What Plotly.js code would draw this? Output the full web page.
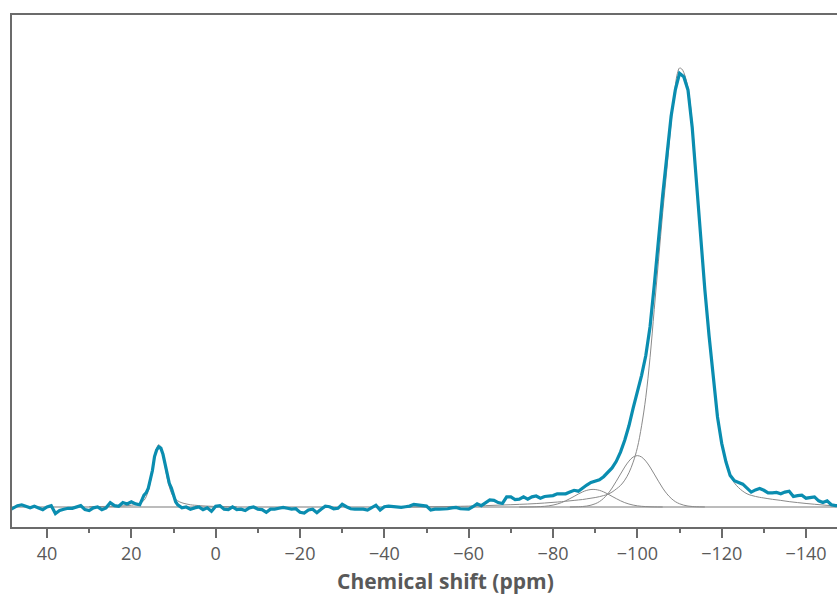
<!DOCTYPE html>
<html>
<head>
<meta charset="utf-8">
<script src="https://cdn.plot.ly/plotly-3.0.1.min.js"></script>
<style>html,body{margin:0;padding:0;background:#fff;overflow:hidden;width:837px;height:596px;}#chart{width:879px;height:596px;}</style>
</head>
<body>
<div id="chart"></div>
<script>
// Measured spectrum (ppm, intensity)
var shiftMeasured = [48.5,48,47,46,45,44,43,42,41,40,39,38,37,36,35,34,33,32,31,30,29,28,27,26,25,24,23,22,21,20,19,18,17,16.5,16,15.5,15,14.5,14,13.5,13,12.5,12,11.5,11,10.5,10,9.5,9,8,7,6,5,4,3,2,1,0,-1,-2,-3,-4,-5,-6,-7,-8,-9,-10,-11,-12,-13,-14,-15,-16,-17,-18,-19,-20,-21,-22,-23,-24,-25,-26,-27,-28,-29,-30,-31,-32,-33,-34,-35,-36,-37,-38,-39,-40,-41,-42,-43,-44,-45,-46,-47,-48,-49,-50,-51,-52,-53,-54,-55,-56,-57,-58,-59,-60,-61,-62,-63,-64,-65,-66,-67,-68,-69,-70,-71,-72,-73,-74,-75,-76,-77,-78,-79,-80,-81,-82,-83,-84,-85,-86,-87,-88,-89,-90,-91,-92,-93,-94,-95,-96,-97,-98,-99,-100,-101,-102,-103,-104,-105,-106,-107,-108,-109,-110,-111,-112,-113,-114,-115,-116,-117,-118,-119,-120,-121,-122,-123,-124,-125,-126,-127,-128,-129,-130,-131,-132,-133,-134,-135,-136,-137,-138,-139,-140,-141,-142,-143,-144,-145,-146,-147,-147.4];
var intensityMeasured = [-0.5,-0.2,0.3,0.5,0.15,-0.2,0.15,-0.2,-0.6,0,0.3,-1.5,-0.8,-0.5,-0.3,-0.3,0,0.3,-0.6,-0.8,-0.2,0,-0.6,-0.2,1.0,0.3,0.15,1.0,0.7,1.2,0.7,0.5,2.7,3.2,4.2,6.0,8.3,11.5,13.0,13.7,13.4,12.0,9.9,7.5,5.4,4.3,2.7,1.2,0.5,-0.2,0,-0.5,-0.2,0,-0.6,-0.2,-1.0,0.15,0.3,-0.5,-0.6,0,-0.6,-0.5,-0.8,-0.2,0,-0.5,-0.6,-1.2,-0.5,-0.5,-0.3,-0.1,-0.3,-0.5,-0.4,-1.2,-1.4,-0.7,-0.5,-1.3,-0.5,0.2,0.05,-0.4,-0.3,0.6,0.05,-0.4,-0.5,-0.5,-0.5,-0.7,-0.1,0.4,-0.7,0.05,0.2,0.05,0.05,-0.1,0.05,0.2,0.6,0.5,0.4,0.2,-0.7,-0.5,-0.5,-0.5,-0.4,-0.2,-0.1,-0.4,-0.5,-0.5,0.05,0.7,0.3,0.9,1.6,1.5,1.0,0.8,2.3,2.3,1.7,1.8,2.3,1.8,2.3,2.5,2.0,2.4,2.5,2.6,3.0,3.0,3.0,3.4,3.8,3.6,4.4,5.0,5.6,5.9,6.2,6.9,7.9,8.9,10.4,12.5,15.2,18.5,22.5,26,30,34.5,41,50.5,61,71,80,89,95,98.8,98,95,86.5,73.5,61,49.5,39,30,20.5,14.5,10.3,7.2,6.0,5.6,5.2,4.3,3.4,3.9,4.2,3.8,3.2,3.2,3.3,3.0,3.4,3.6,2.4,2.6,2.7,2.0,2.2,2.3,1.4,1.0,1.4,0.5,0.3,0.3];

// Fit component near 13.5 ppm
var shiftFitA = [30,25,22,20,19,18,17,16.5,16,15.5,15,14.5,14,13.5,13,12.5,12,11.5,11,10.5,10,9,8,7,6,5,3,0,-5];
var intensityFitA = [0.05,0.15,0.25,0.4,0.55,0.8,1.5,2.3,3.6,5.6,8.2,11.2,13.4,14.2,13.6,11.8,9.2,6.6,4.6,3.2,2.3,1.4,0.95,0.7,0.5,0.4,0.25,0.12,0.04];

// Main fit component near -110 ppm
var shiftFitMain = [-45,-48,-52,-56,-60,-62,-64,-66,-68,-70,-72,-74,-76,-78,-80,-82,-83,-84,-85,-86,-87,-88,-89,-90,-91,-92,-93,-94,-95,-96,-97,-98,-99,-100,-101,-102,-103,-104,-105,-106,-107,-108,-109,-109.5,-110,-110.5,-111,-112,-113,-114,-115,-116,-117,-118,-119,-120,-121,-122,-123,-124,-125,-126,-127,-128,-129,-130,-132,-134,-136,-138,-140,-142,-144,-146,-148];
var intensityFitMain = [0,0.02,0.06,0.12,0.2,0.25,0.3,0.38,0.45,0.52,0.6,0.68,0.78,0.9,1.05,1.2,1.3,1.4,1.5,1.6,1.7,1.85,2.0,2.15,2.35,2.6,2.9,3.4,4.1,4.9,6.1,7.8,10.2,13.5,18.5,25,34,45,56,67,77,87.5,96,98.8,100,99.8,99,95.5,87.5,75,61.5,49.5,39,30,21.5,15,10.5,7.3,5.5,4.4,3.6,3.0,2.65,2.4,2.2,2.05,1.75,1.5,1.22,1.0,0.8,0.62,0.45,0.3,0.2];

// Fit component near -100 ppm
var shiftFitB = [-84,-86,-87,-88,-89,-90,-91,-92,-93,-94,-95,-96,-97,-98,-99,-100,-101,-102,-103,-104,-105,-106,-107,-108,-109,-110,-111,-112,-113,-114,-116];
var intensityFitB = [0,0.05,0.11,0.21,0.41,0.73,1.22,1.98,3.0,4.31,5.87,7.5,9.1,10.45,11.38,11.7,11.38,10.45,9.1,7.5,5.87,4.31,3.0,1.98,1.22,0.73,0.41,0.21,0.11,0.05,0];

// Fit component near -89.5 ppm
var shiftFitC = [-72,-75,-76,-77,-78,-79,-80,-81,-82,-83,-84,-85,-86,-87,-88,-89,-90,-91,-92,-93,-94,-95,-96,-97,-98,-99,-100,-101,-102,-103,-104,-106];
var intensityFitC = [0,0.02,0.05,0.09,0.15,0.26,0.43,0.67,0.99,1.41,1.9,2.42,2.96,3.43,3.79,3.98,3.98,3.79,3.43,2.96,2.42,1.9,1.41,0.99,0.67,0.43,0.26,0.15,0.09,0.05,0.02,0];

// Baseline
var shiftBase = [50,-160];
var intensityBase = [0,0];

var xTitle = 'Chemical shift (ppm)';

var grey = '#8a8a8a';
var axisColor = '#6b6b6b';
var traces = [
  {x: shiftBase, y: intensityBase, mode:'lines', line:{color:'#7a7a7a', width:1.2}, hoverinfo:'skip'},
  {x: shiftFitA, y: intensityFitA, mode:'lines', line:{color:grey, width:1, shape:'spline'}, hoverinfo:'skip'},
  {x: shiftFitC, y: intensityFitC, mode:'lines', line:{color:grey, width:1, shape:'spline'}, hoverinfo:'skip'},
  {x: shiftFitB, y: intensityFitB, mode:'lines', line:{color:grey, width:1, shape:'spline'}, hoverinfo:'skip'},
  {x: shiftFitMain, y: intensityFitMain, mode:'lines', line:{color:grey, width:1, shape:'spline'}, hoverinfo:'skip'},
  {x: shiftMeasured, y: intensityMeasured, mode:'lines', line:{color:'#0a8db0', width:3.2}}
];

var layout = {
  width: 879, height: 596,
  margin: {l:12, r:0, t:15, b:69, pad:0},
  paper_bgcolor:'#ffffff', plot_bgcolor:'#ffffff',
  showlegend:false,
  xaxis: {
    range:[48.3,-157.3], tick0:0, dtick:20,
    ticks:'outside', ticklen:9, tickwidth:2, tickcolor:axisColor,
    showline:true, linewidth:2, linecolor:axisColor, mirror:true,
    showgrid:false, zeroline:false,
    minor:{dtick:10, ticks:'outside', ticklen:4, tickwidth:2, tickcolor:axisColor, showgrid:false},
    tickfont:{family:'Open Sans', size:18, color:'#595959'}
  },
  yaxis: {
    range:[-4.56,112.07],
    showline:true, linewidth:2, linecolor:axisColor, mirror:false,
    showticklabels:false, ticks:'', showgrid:false, zeroline:false
  },
  annotations: [{
    text: xTitle, xref:'paper', yref:'paper', x:0.5, y:-0.106,
    xanchor:'center', yanchor:'middle', showarrow:false,
    font:{family:'Open Sans', size:21, color:'#595959', weight:700}
  }]
};
Plotly.newPlot('chart', traces, layout, {displayModeBar:false, staticPlot:true});
</script>
</body>
</html>
